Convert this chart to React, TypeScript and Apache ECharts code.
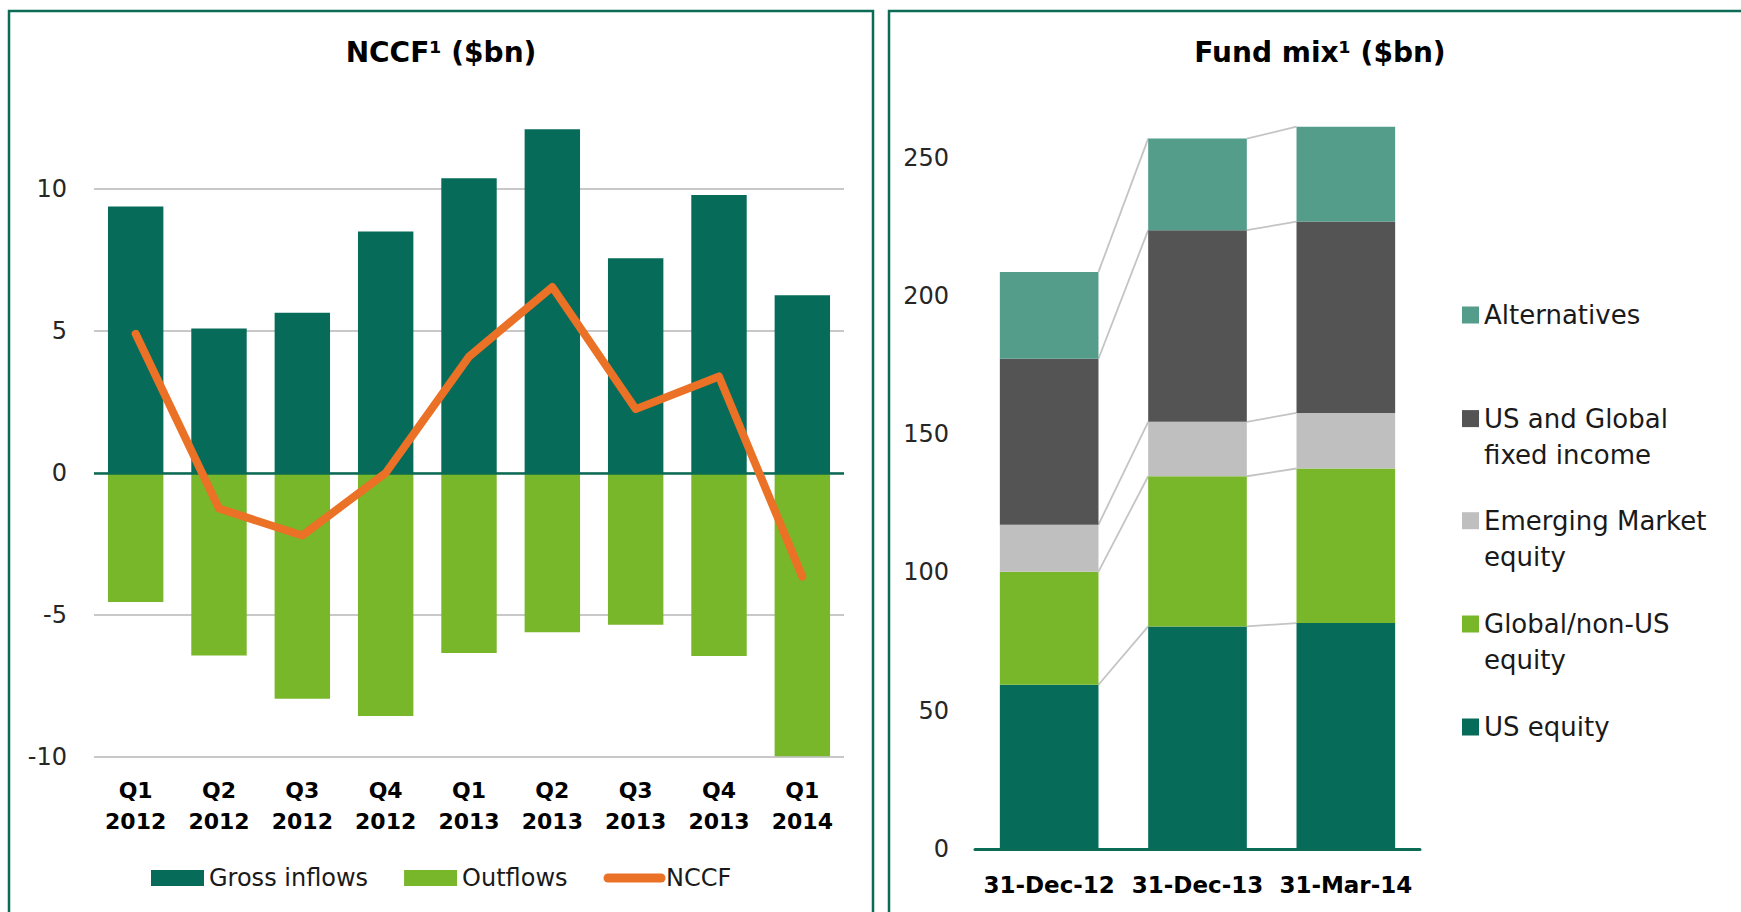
import React, { useEffect, useRef } from 'react';
import * as echarts from 'echarts';

// ---- NCCF chart data ($bn) ----
const quarters = ['Q1\n2012', 'Q2\n2012', 'Q3\n2012', 'Q4\n2012', 'Q1\n2013', 'Q2\n2013', 'Q3\n2013', 'Q4\n2013', 'Q1\n2014'];
const grossInflows = [9.38, 5.09, 5.64, 8.5, 10.38, 12.1, 7.56, 9.79, 6.26];
const outflows = [-4.54, -6.43, -7.95, -8.56, -6.34, -5.61, -5.34, -6.44, -9.97];
const nccf = [4.9, -1.25, -2.2, 0, 4.1, 6.55, 2.25, 3.4, -3.65];

// ---- Fund mix chart data ($bn) ----
const mixDates = ['31-Dec-12', '31-Dec-13', '31-Mar-14'];
const usEquity = [59.4, 80.5, 81.7];
const globalEquity = [40.9, 54.3, 55.9];
const emEquity = [17.0, 19.7, 20.1];
const fixedIncome = [60.0, 69.3, 69.2];
const alternatives = [31.4, 33.1, 34.3];

const mixNames = ['US equity', 'Global/non-US\nequity', 'Emerging Market\nequity', 'US and Global\nfixed income', 'Alternatives'];
const mixStacks = [usEquity, globalEquity, emEquity, fixedIncome, alternatives];
const mixColors = ['#066b58', '#78b72a', '#bfbfbf', '#545454', '#559d8b'];

const FONT = '"DejaVu Sans", sans-serif';
const DARK_GREEN = '#066b58';
const LIGHT_GREEN = '#78b72a';
const ORANGE = '#ea7125';
const BORDER = '#0b6b55';
const MIX_BAR_RATIO = 0.665;

export default function App() {
  const ref = useRef<HTMLDivElement>(null);

  useEffect(() => {
    if (!ref.current) return;
    const chart = echarts.init(ref.current, undefined, { renderer: 'svg' });

    const rightLegendTops = [709, 570, 466.7, 364.6, 297];
    const rightLegends = mixNames.map((name, idx) => ({
      orient: 'vertical',
      left: 1462,
      top: rightLegendTops[idx],
      padding: 0,
      itemWidth: 17,
      itemHeight: 17,
      icon: 'rect',
      selectedMode: false,
      data: [name],
      // two-line entries: an empty first line puts the first text line level with the swatch
      formatter: (n: string) => (n.indexOf('\n') >= 0 ? ' \n' + n : n),
      textStyle: {
        fontFamily: FONT,
        fontSize: 26,
        lineHeight: 36,
        color: '#1a1a1a',
      },
    }));

    const option: any = {
      animation: false,
      backgroundColor: '#ffffff',
      textStyle: { fontFamily: FONT },
      graphic: [
        {
          type: 'rect',
          silent: true,
          shape: { x: 9, y: 11, width: 864, height: 960 },
          style: { fill: 'none', stroke: BORDER, lineWidth: 2.5 },
        },
        {
          type: 'rect',
          silent: true,
          shape: { x: 889, y: 11, width: 900, height: 960 },
          style: { fill: 'none', stroke: BORDER, lineWidth: 2.5 },
        },
        {
          type: 'text',
          x: 441,
          y: 52,
          style: {
            text: 'NCCF¹ ($bn)',
            font: `bold 28px ${FONT}`,
            fill: '#000',
            align: 'center',
            verticalAlign: 'middle',
          },
        },
        {
          type: 'text',
          x: 1320,
          y: 52,
          style: {
            text: 'Fund mix¹ ($bn)',
            font: `bold 28px ${FONT}`,
            fill: '#000',
            align: 'center',
            verticalAlign: 'middle',
          },
        },
      ],
      legend: [
        {
          left: 151,
          top: 864,
          padding: 0,
          itemWidth: 53,
          itemHeight: 16,
          itemGap: 36,
          selectedMode: false,
          lineStyle: { width: 9, cap: 'round' },
          textStyle: { fontFamily: FONT, fontSize: 24, lineHeight: 28, color: '#1a1a1a' },
          data: [
            { name: 'Gross inflows', icon: 'rect' },
            { name: 'Outflows', icon: 'rect' },
            { name: 'NCCF', itemStyle: { opacity: 0 }, lineStyle: { width: 9, cap: 'round', color: ORANGE } },
          ],
        },
        ...rightLegends,
      ],
      grid: [
        { left: 94, right: 897, top: 189, bottom: 155 },
        { left: 975, right: 321, top: 157.7, bottom: 63 },
      ],
      xAxis: [
        {
          gridIndex: 0,
          type: 'category',
          data: quarters,
          axisLine: { show: false },
          axisTick: { show: false },
          axisLabel: {
            interval: 0,
            fontFamily: FONT,
            fontWeight: 'bold',
            fontSize: 22,
            lineHeight: 31,
            margin: 18,
            color: '#000',
          },
        },
        {
          gridIndex: 1,
          type: 'category',
          data: mixDates,
          axisLine: { show: true, lineStyle: { color: BORDER, width: 3 } },
          axisTick: { show: false },
          axisLabel: {
            interval: 0,
            fontFamily: FONT,
            fontWeight: 'bold',
            fontSize: 23,
            margin: 24,
            color: '#000',
          },
        },
      ],
      yAxis: [
        {
          gridIndex: 0,
          type: 'value',
          min: -10,
          max: 10,
          interval: 5,
          axisLine: { show: false },
          axisTick: { show: false },
          axisLabel: { fontFamily: FONT, fontSize: 24, margin: 27, color: '#262626' },
          splitLine: { show: true, lineStyle: { color: '#c8c8c8', width: 2 } },
        },
        {
          gridIndex: 1,
          type: 'value',
          min: 0,
          max: 250,
          interval: 50,
          axisLine: { show: false },
          axisTick: { show: false },
          axisLabel: { fontFamily: FONT, fontSize: 24, margin: 26, color: '#262626' },
          splitLine: { show: false },
        },
      ],
      series: [
        {
          name: 'Gross inflows',
          type: 'bar',
          xAxisIndex: 0,
          yAxisIndex: 0,
          stack: 'flows',
          barWidth: '66.5%',
          clip: false,
          data: grossInflows,
          itemStyle: { color: DARK_GREEN },
          markLine: {
            silent: true,
            symbol: 'none',
            label: { show: false },
            lineStyle: { color: BORDER, width: 2.5, type: 'solid' },
            data: [{ yAxis: 0 }],
          },
        },
        {
          name: 'Outflows',
          type: 'bar',
          xAxisIndex: 0,
          yAxisIndex: 0,
          stack: 'flows',
          barWidth: '66.5%',
          clip: false,
          data: outflows,
          itemStyle: { color: LIGHT_GREEN },
        },
        {
          name: 'NCCF',
          type: 'line',
          xAxisIndex: 0,
          yAxisIndex: 0,
          data: nccf,
          symbol: 'none',
          clip: false,
          z: 5,
          itemStyle: { color: ORANGE },
          lineStyle: { color: ORANGE, width: 8, cap: 'round', join: 'round' },
        },
        ...mixNames.map((name, idx) => ({
          name,
          type: 'bar',
          xAxisIndex: 1,
          yAxisIndex: 1,
          stack: 'mix',
          barWidth: `${MIX_BAR_RATIO * 100}%`,
          clip: false,
          data: mixStacks[idx],
          itemStyle: { color: mixColors[idx] },
        })),
        {
          name: 'series-lines',
          type: 'custom',
          xAxisIndex: 1,
          yAxisIndex: 1,
          clip: false,
          silent: true,
          data: [[0, 0], [1, 0]],
          renderItem: (params: any, api: any) => {
            const i = api.value(0) as number;
            const half = (api.size([1, 0]) as number[])[0] * MIX_BAR_RATIO / 2;
            const children: any[] = [];
            let cumA = 0;
            let cumB = 0;
            for (const s of mixStacks) {
              cumA += s[i];
              cumB += s[i + 1];
              const pA = api.coord([i, cumA]);
              const pB = api.coord([i + 1, cumB]);
              children.push({
                type: 'line',
                shape: { x1: pA[0] + half, y1: pA[1], x2: pB[0] - half, y2: pB[1] },
                style: { stroke: '#c4c4c4', lineWidth: 1.8 },
              });
            }
            return { type: 'group', children };
          },
        },
      ],
    };

    chart.setOption(option);
    return () => {
      chart.dispose();
    };
  }, []);

  return (
    <div
      ref={ref}
      style={{ position: 'fixed', left: 0, top: 0, width: 1741, height: 912, background: '#fff' }}
    />
  );
}
